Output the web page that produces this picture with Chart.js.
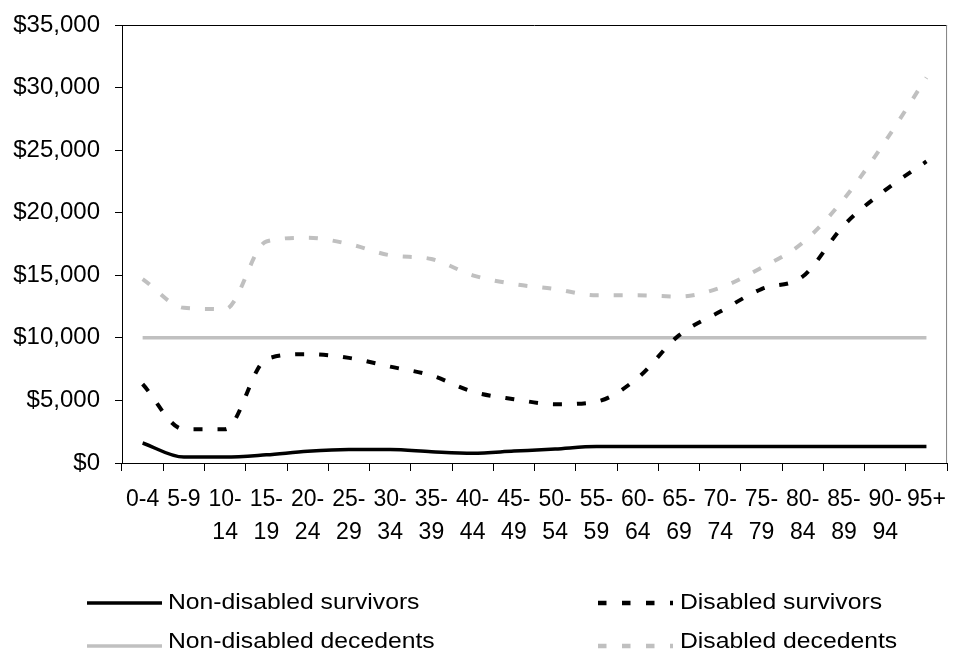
<!DOCTYPE html>
<html>
<head>
<meta charset="utf-8">
<script src="https://cdn.jsdelivr.net/npm/chart.js@4/dist/chart.umd.min.js"></script>
<style>
  html, body { margin: 0; padding: 0; background: #fff; }
  #wrap { position: relative; width: 958px; height: 655px; overflow: hidden; }
  #legend { position: absolute; left: 0; top: 0; width: 958px; height: 655px; pointer-events: none; }
  .lbl {
    position: absolute; font-family: "Liberation Sans", Arial, sans-serif; font-size: 21.5px;
    color: #000; white-space: nowrap; transform-origin: left center; transform: scaleX(1.15);
    line-height: 24px; height: 24px;
  }
</style>
</head>
<body>
<div id="wrap">
  <canvas id="chart"></canvas>
  <svg id="legend" width="958" height="655">
    <line x1="87" y1="603" x2="162" y2="603" stroke="#000" stroke-width="3.5"/>
    <line x1="87" y1="646" x2="162" y2="646" stroke="#c0c0c0" stroke-width="3.5"/>
    <line x1="598" y1="603" x2="673" y2="603" stroke="#000" stroke-width="4.5" stroke-dasharray="8.5 15.5"/>
    <line x1="598" y1="646" x2="673" y2="646" stroke="#c0c0c0" stroke-width="4.5" stroke-dasharray="8.5 15.5"/>
  </svg>
  <div class="lbl" style="left:168px; top:590px;">Non-disabled survivors</div>
  <div class="lbl" style="left:168px; top:629px;">Non-disabled decedents</div>
  <div class="lbl" style="left:680px; top:590px;">Disabled survivors</div>
  <div class="lbl" style="left:680px; top:629px;">Disabled decedents</div>
</div>
<script>
// age groups, wrapped the way the original axis wraps them
const ageGroups = [
  '0-4', '5-9', ['10-', '14'], ['15-', '19'], ['20-', '24'], ['25-', '29'], ['30-', '34'],
  ['35-', '39'], ['40-', '44'], ['45-', '49'], ['50-', '54'], ['55-', '59'], ['60-', '64'],
  ['65-', '69'], ['70-', '74'], ['75-', '79'], ['80-', '84'], ['85-', '89'], ['90-', '94'], '95+'
];

const nonDisabledSurvivors = [1600, 470, 470, 650, 930, 1070, 1070, 900, 780, 950, 1120, 1320,
  1320, 1320, 1320, 1320, 1320, 1320, 1320, 1320];
const nonDisabledDecedents = [10000, 10000, 10000, 10000, 10000, 10000, 10000, 10000, 10000, 10000,
  10000, 10000, 10000, 10000, 10000, 10000, 10000, 10000, 10000, 10000];
const disabledSurvivors = [6300, 2700, 2700, 8300, 8700, 8400, 7700, 7000, 5700, 5100, 4700, 4900,
  6800, 10200, 12100, 13900, 14900, 19000, 21800, 24100];
const disabledDecedents = [14700, 12400, 12300, 17700, 18000, 17500, 16600, 16300, 15000, 14300,
  13900, 13400, 13400, 13300, 14000, 15600, 17600, 21100, 25700, 30800];

const yTicks = { min: 0, max: 35000, step: 5000 };

const FONT = '"Liberation Sans", Arial, sans-serif';
const GREY = '#c0c0c0';

// top + right edge of the plot box
const plotFrame = {
  id: 'plotFrame',
  afterDraw(chart) {
    const { ctx, chartArea: a } = chart;
    ctx.save();
    ctx.lineWidth = 1;
    ctx.strokeStyle = '#000';
    ctx.beginPath();
    ctx.moveTo(a.left, a.top + 0.5);
    ctx.lineTo(a.right, a.top + 0.5);
    ctx.stroke();
    ctx.strokeStyle = '#808080';
    ctx.beginPath();
    ctx.moveTo(a.right - 0.5, a.top);
    ctx.lineTo(a.right - 0.5, a.bottom);
    ctx.stroke();
    ctx.restore();
  }
};

function money(v) {
  return '$' + String(v).replace(/\B(?=(\d{3})+(?!\d))/g, ',');
}

const ctx = document.getElementById('chart').getContext('2d');
new Chart(ctx, {
  type: 'line',
  data: {
    labels: ageGroups,
    datasets: [
      {
        label: 'Disabled survivors',
        data: disabledSurvivors,
        borderColor: '#000',
        borderWidth: 4,
        borderDash: [9, 15]
      },
      {
        label: 'Non-disabled survivors',
        data: nonDisabledSurvivors,
        borderColor: '#000',
        borderWidth: 3.5
      },
      {
        label: 'Non-disabled decedents',
        data: nonDisabledDecedents,
        borderColor: GREY,
        borderWidth: 3.5
      },
      {
        label: 'Disabled decedents',
        data: disabledDecedents,
        borderColor: GREY,
        borderWidth: 4,
        borderDash: [9, 15]
      }
    ]
  },
  options: {
    responsive: true,
    maintainAspectRatio: false,
    animation: false,
    layout: { padding: { top: 25, right: 2, left: 0, bottom: 0 } },
    elements: {
      point: { radius: 0 },
      line: { fill: false, cubicInterpolationMode: 'monotone' }
    },
    plugins: { legend: { display: false }, tooltip: { enabled: false } },
    scales: {
      x: {
        offset: true,
        afterFit: s => { s.height = 192; },
        grid: { offset: true, drawOnChartArea: false, drawTicks: true, tickLength: 8, color: '#000' },
        border: { display: true, color: '#000', width: 1 },
        ticks: {
          autoSkip: false, maxRotation: 0, minRotation: 0, padding: 12,
          color: '#000', font: { family: FONT, size: 23, lineHeight: 1.44 }
        }
      },
      y: {
        min: yTicks.min,
        max: yTicks.max,
        afterFit: s => { s.width = 122; s.paddingTop = 0; s.paddingBottom = 0; },
        grid: { drawOnChartArea: false, drawTicks: true, tickLength: 7, color: '#000' },
        border: { display: true, color: '#000', width: 1 },
        ticks: {
          stepSize: yTicks.step, padding: 15, color: '#000',
          font: { family: FONT, size: 24 },
          callback: v => money(v)
        }
      }
    }
  },
  plugins: [plotFrame]
});
</script>
</body>
</html>
